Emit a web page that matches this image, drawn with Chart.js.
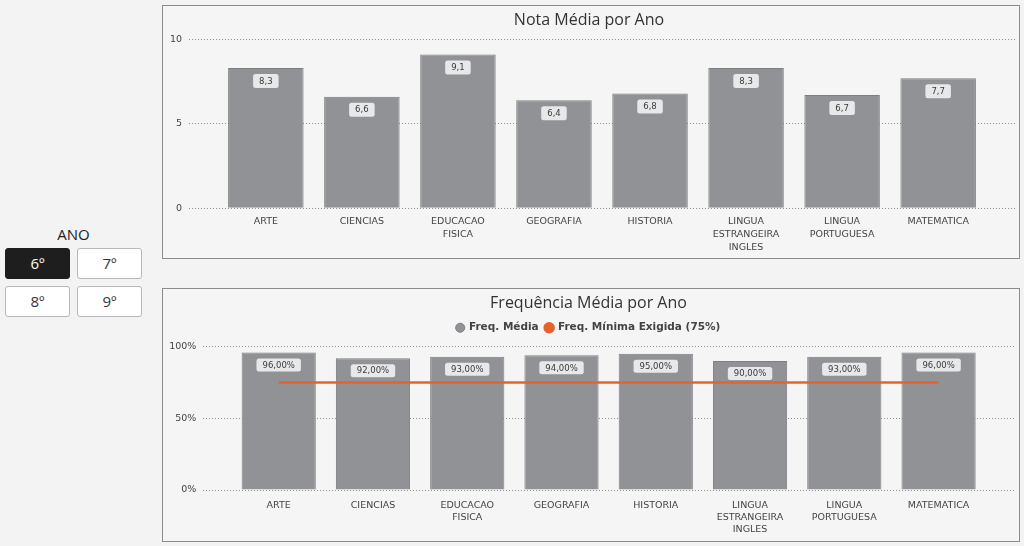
<!DOCTYPE html>
<html><head><meta charset="utf-8">
<script src="https://cdn.jsdelivr.net/npm/chart.js@4"></script>
<style>
html,body{margin:0;padding:0;background:#f3f3f3;width:1024px;height:546px;overflow:hidden;font-family:"Open Sans",sans-serif;}
.panel{position:absolute;left:162px;width:858px;height:254px;background:#f5f5f5;border:1px solid #8c8c8c;box-sizing:border-box;}
#p1{top:5px;}
#p2{top:288px;}
.cw{position:absolute;left:0;top:0;width:856px;height:252px;}
#ano{position:absolute;left:5px;width:137px;top:224px;text-align:center;font-size:15px;color:#222;}
.btn{position:absolute;width:65px;height:31px;box-sizing:border-box;border:1px solid #b8b8b8;border-radius:3px;background:#fff;color:#333;font-size:15px;line-height:29px;text-align:center;}
.btn.sel{background:#1e1e1e;border-color:#1e1e1e;color:#fff;}
</style></head>
<body>
<div id="ano">ANO</div>
<div class="btn sel" style="left:5px;top:248px;">6º</div>
<div class="btn" style="left:77px;top:248px;">7º</div>
<div class="btn" style="left:5px;top:286px;">8º</div>
<div class="btn" style="left:77px;top:286px;">9º</div>
<div class="panel" id="p1"><div class="cw"><canvas id="c1"></canvas></div></div>
<div class="panel" id="p2"><div class="cw"><canvas id="c2"></canvas></div></div>
<script>
const categories = ['ARTE','CIENCIAS','EDUCACAO FISICA','GEOGRAFIA','HISTORIA','LINGUA ESTRANGEIRA INGLES','LINGUA PORTUGUESA','MATEMATICA'];
const notaMedia = [8.3,6.6,9.1,6.4,6.8,8.3,6.7,7.7];
const freqMedia = [96,92,93,94,95,90,93,96];
const freqMinima = [75,75,75,75,75,75,75,75];
const notaTitle = 'Nota Média por Ano';
const freqTitle = 'Frequência Média por Ano';
const freqLabel = 'Freq. Média';
const minLabel = 'Freq. Mínima Exigida (75%)';

const BAR = '#909295', BAR_BORDER = '#7c7e81', ORANGE = '#e8622c';
const tickFont = {family:'DejaVu Sans', size:9.5};

function valueLabels(fmt, h){
  return {
    id:'valueLabels',
    afterDatasetsDraw(chart){
      const idx = chart.data.datasets.findIndex(d => d.type === 'bar' || !d.type);
      const meta = chart.getDatasetMeta(idx);
      const ds = chart.data.datasets[idx];
      const ctx = chart.ctx;
      ctx.save();
      ctx.font = '8.5px "DejaVu Sans"';
      meta.data.forEach((bar,i)=>{
        const txt = fmt(ds.data[i].y);
        const w = ctx.measureText(txt).width + 12;
        const x = bar.x - w/2, y = bar.y + 6;
        ctx.fillStyle = '#e7e8e9';
        ctx.beginPath(); ctx.roundRect(x, y, w, h, 2.5); ctx.fill();
        ctx.fillStyle = '#3a3a3a'; ctx.textAlign = 'center'; ctx.textBaseline = 'middle';
        ctx.fillText(txt, bar.x, y + h/2 + 0.5);
      });
      ctx.restore();
    }
  };
}
const legendExtra = {
  id:'legendExtra',
  beforeUpdate(chart){
    const lg = chart.legend;
    if (lg && !lg._patched){
      const f = lg.fit;
      lg.fit = function(){ f.call(this); this.height += 3.7; };
      lg._patched = true;
    }
  }
};

function xScale(pad, lh, h){
  return {
    type:'linear', bounds:'data', min:-0.8, max:7.8, offset:false,
    afterBuildTicks: a => { a.ticks = categories.map((c,i)=>({value:i})); },
    afterFit: a => { a.height = h; },
    grid:{display:false, drawTicks:false, offset:false},
    border:{display:false},
    ticks:{autoSkip:false, maxRotation:0, minRotation:0, padding:pad, color:'#444',
      font:Object.assign({}, tickFont, {lineHeight:lh}),
      callback: v => (Number.isInteger(v) && categories[v]) ? categories[v].split(' ') : ''}
  };
}
function yScale(max, step, width, cb){
  return {
    min:0, max:max,
    afterFit: a => { a.width = width; },
    grid:{color:'#8f8f8f', lineWidth:1, drawTicks:false},
    border:{display:false, dash:[1,2]},
    ticks:{stepSize:step, padding:7, color:'#444', font:tickFont, callback:cb}
  };
}

new Chart(document.getElementById('c1'), {
  type:'bar',
  data:{ datasets:[{
    label:'Nota Média',
    data: notaMedia.map((v,i)=>({x:i, y:v})),
    backgroundColor:BAR, borderColor:BAR_BORDER, borderWidth:1,
    categoryPercentage:1, barPercentage:0.786
  }]},
  options:{
    responsive:true, maintainAspectRatio:false, animation:false,
    layout:{padding:{top:0, right:4, bottom:0, left:0}},
    plugins:{
      legend:{display:false}, tooltip:{enabled:false},
      title:{display:true, text:notaTitle, color:'#333', font:{family:'Open Sans', size:16, weight:'normal', lineHeight:1.2}, padding:{top:5.1, bottom:9}}
    },
    scales:{ x:xScale(7, 1.34, 49.7), y:yScale(10, 5, 26, v => v) }
  },
  plugins:[valueLabels(v => v.toFixed(1).replace('.', ','), 14)]
});

new Chart(document.getElementById('c2'), {
  type:'bar',
  data:{ datasets:[
    {
      type:'bar', label:freqLabel, order:2,
      data: freqMedia.map((v,i)=>({x:i, y:v})),
      backgroundColor:BAR, borderColor:BAR_BORDER, borderWidth:1,
      categoryPercentage:1, barPercentage:0.787
    },
    {
      type:'line', label:minLabel, order:1,
      data: freqMinima.map((v,i)=>({x:i, y:v})),
      borderColor:ORANGE, backgroundColor:ORANGE, borderWidth:2.5,
      pointRadius:0, tension:0
    }
  ]},
  options:{
    responsive:true, maintainAspectRatio:false, animation:false,
    layout:{padding:{top:0, right:5, bottom:0, left:0}},
    plugins:{
      tooltip:{enabled:false},
      title:{display:true, text:freqTitle, color:'#333', font:{family:'Open Sans', size:16, weight:'normal', lineHeight:1.2}, padding:{top:4.4, bottom:2.9}},
      legend:{display:true, position:'top',
        labels:{usePointStyle:true, pointStyle:'circle', boxWidth:7, boxHeight:6.4, padding:7, color:'#444',
          font:{family:'DejaVu Sans', size:10.5, weight:'bold'},
          sort:(a,b)=>a.datasetIndex-b.datasetIndex}}
    },
    scales:{ x:xScale(10, 1.23, 51), y:yScale(100, 50, 40.3, v => v + '%') }
  },
  plugins:[valueLabels(v => v.toFixed(2).replace('.', ',') + '%', 13), legendExtra]
});
</script>
</body></html>
